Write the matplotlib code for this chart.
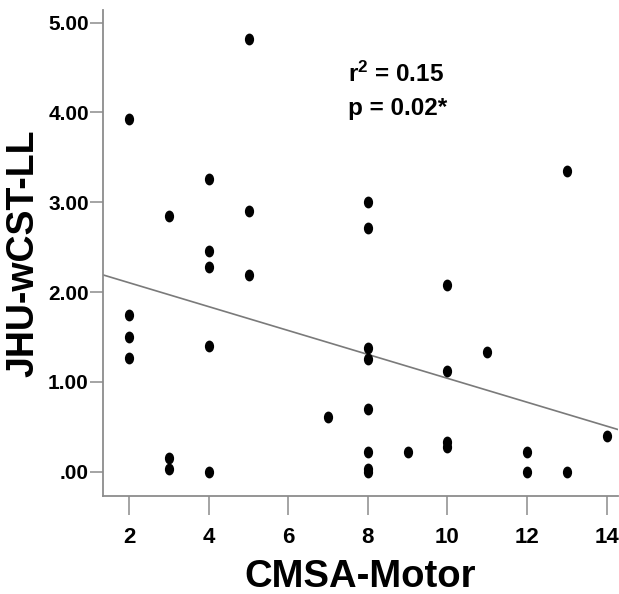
import numpy as np
import matplotlib
matplotlib.use('Agg')
import matplotlib.pyplot as plt
from matplotlib.path import Path

# CMSA-Motor score vs JHU-wCST-LL
cmsa = [2, 2, 2, 2,
        3, 3, 3,
        4, 4, 4, 4, 4,
        5, 5, 5,
        7,
        8, 8, 8, 8, 8, 8, 8, 8,
        9,
        10, 10, 10, 10,
        11,
        12, 12,
        13, 13,
        14]
wcst = [3.93, 1.74, 1.50, 1.27,
        2.85, 0.15, 0.03,
        3.26, 2.46, 2.28, 1.40, 0.00,
        4.82, 2.90, 2.19,
        0.61,
        3.00, 2.71, 1.38, 1.26, 0.70, 0.22, 0.03, 0.00,
        0.22,
        2.08, 1.12, 0.33, 0.28,
        1.33,
        0.22, 0.00,
        3.35, 0.00,
        0.40]
# fit line as printed in the figure
fit_intercept = 2.37
fit_slope = -0.133
stats_text = ['r$^{2}$ = 0.15', 'p = 0.02*']
x_ticks = [2, 4, 6, 8, 10, 12, 14]
y_ticks = [0, 1, 2, 3, 4, 5]
y_ticklabels = ['.00', '1.00', '2.00', '3.00', '4.00', '5.00']

plt.rcParams['mathtext.fontset'] = 'custom'
plt.rcParams['mathtext.rm'] = 'Liberation Sans:bold'
plt.rcParams['mathtext.it'] = 'Liberation Sans:bold'
plt.rcParams['mathtext.bf'] = 'Liberation Sans:bold'

tick_font = ['Liberation Sans Narrow', 'Liberation Sans', 'DejaVu Sans']
label_font = ['Liberation Sans', 'DejaVu Sans']

fig = plt.figure(figsize=(6.19, 5.94), dpi=100)
ax = fig.add_axes([0.167, 0.165, 0.831, 0.818])

# slightly tall dots like the original
circ = Path.unit_circle()
dot = Path(circ.vertices * np.array([0.75, 1.0]), circ.codes)

ax.plot(cmsa, wcst, linestyle='none', marker=dot, markersize=7.5,
        color='black', zorder=3)

xl = (1.35, 14.28)
xs = np.array(xl)
ax.plot(xs, fit_intercept + fit_slope * xs, color='#7a7a7a', linewidth=1.2,
        zorder=2)

ax.set_xlim(xl)
ax.set_ylim(-0.27, 5.14)

ax.spines['top'].set_visible(False)
ax.spines['right'].set_visible(False)
for s in ['left', 'bottom']:
    ax.spines[s].set_color('#8c8c8c')
    ax.spines[s].set_linewidth(1.3)

ax.set_xticks(x_ticks)
ax.set_yticks(y_ticks)
ax.set_yticklabels(y_ticklabels)
ax.tick_params(axis='x', length=14, width=1.1, color='#8c8c8c', pad=8)
ax.tick_params(axis='y', length=9.5, width=1.1, color='#8c8c8c', pad=1)
for lab in ax.get_xticklabels():
    lab.set_family(tick_font)
    lab.set_fontweight('bold')
    lab.set_fontsize(16)
for lab in ax.get_yticklabels():
    lab.set_family(tick_font)
    lab.set_fontweight('bold')
    lab.set_fontsize(15)

ax.set_xlabel('CMSA-Motor', family=label_font, fontweight='bold',
              fontsize=27.5, labelpad=8)
ax.set_ylabel('JHU-wCST-LL', family=label_font, fontweight='bold',
              fontsize=27, labelpad=5)

ax.text(0.475, 0.852, stats_text[0], transform=ax.transAxes,
        family=label_font, fontweight='bold', fontsize=17.5, va='baseline')
ax.text(0.475, 0.784, stats_text[1], transform=ax.transAxes,
        family=label_font, fontweight='bold', fontsize=17.5, va='baseline')

fig.savefig('out.png', dpi=100)
